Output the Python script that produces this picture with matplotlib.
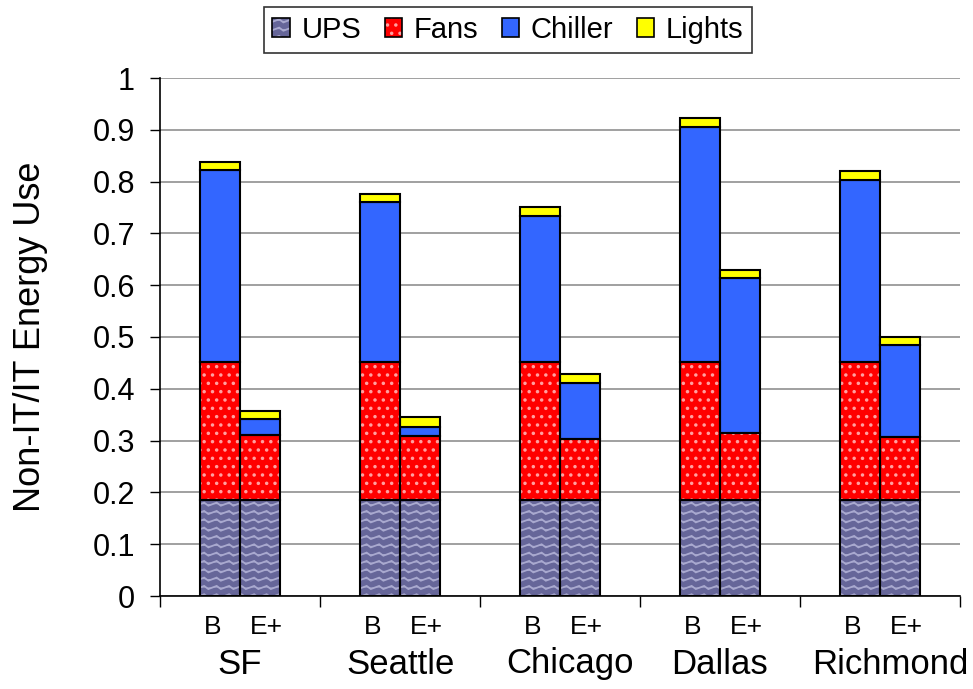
import matplotlib
matplotlib.use("Agg")
import matplotlib.pyplot as plt
import matplotlib.transforms as mtransforms
import matplotlib.hatch as mhatch
from matplotlib.path import Path
from matplotlib.patches import Patch
from matplotlib.colors import to_rgba
import numpy as np

plt.rcParams['font.family'] = ['Liberation Sans', 'DejaVu Sans']


# wavy hatch pattern (replaces the 'o' small-circle hatch)
class WavyHatch(mhatch.HatchPatternBase):
    npts = 25

    def __init__(self, hatch, density):
        self.num_lines = int(hatch.count('o') * density)
        self.num_vertices = self.num_lines * self.npts

    def set_vertices_and_codes(self, vertices, codes):
        t = np.linspace(0, 1, self.npts)
        for i in range(self.num_lines):
            y0 = (i + 0.5) / self.num_lines
            s = slice(i * self.npts, (i + 1) * self.npts)
            vertices[s, 0] = t
            vertices[s, 1] = y0 + 0.018 * np.sin(2 * np.pi * 8 * t)
            codes[s] = Path.LINETO
            codes[i * self.npts] = Path.MOVETO


mhatch._hatch_types = [WavyHatch if h is mhatch.SmallCircles else h
                       for h in mhatch._hatch_types]

cities = ["SF", "Seattle", "Chicago", "Dallas", "Richmond"]
cases = ["B", "E+"]
# cumulative tops (per city: B, E+)
ups = [0.185, 0.185, 0.185, 0.185, 0.185, 0.185, 0.185, 0.185, 0.185, 0.185]
fans_top = [0.452, 0.311, 0.452, 0.308, 0.452, 0.304, 0.452, 0.314, 0.452, 0.307]
chiller_top = [0.822, 0.341, 0.760, 0.327, 0.733, 0.411, 0.906, 0.613, 0.804, 0.484]
lights_top = [0.838, 0.357, 0.776, 0.346, 0.750, 0.428, 0.923, 0.629, 0.820, 0.500]

fans = [f - u for f, u in zip(fans_top, ups)]
chiller = [c - f for c, f in zip(chiller_top, fans_top)]
lights = [l - c for l, c in zip(lights_top, chiller_top)]

fig = plt.figure(figsize=(9.73, 6.89), dpi=100)
ax = fig.add_axes([160/973, (689-596)/689, 800/973, (596-78)/689])

w = 0.25
x = []
for i in range(len(cities)):
    x += [i + 0.5 - w/2, i + 0.5 + w/2]
x = np.array(x)

series = [
    ("UPS", ups, "#666699", "oo", "#a9a9cf"),
    ("Fans", fans, "#ff0000", "..", "#ffa0a0"),
    ("Chiller", chiller, "#3366ff", None, None),
    ("Lights", lights, "#ffff00", None, None),
]
plt.rcParams['hatch.linewidth'] = 1.3
bottom = np.zeros(len(x))
handles = []
for name, vals, col, hatch, hcol in series:
    vals = np.array(vals)
    if hatch:
        ax.bar(x, vals, w, bottom=bottom, color=col, edgecolor=hcol, linewidth=0,
               hatch=hatch, zorder=3)
        ax.bar(x, vals, w, bottom=bottom, facecolor='none', edgecolor='black',
               linewidth=1.5, zorder=4)
    else:
        ax.bar(x, vals, w, bottom=bottom, color=col, edgecolor='black',
               linewidth=1.5, zorder=3)
    hp = Patch(facecolor=col, edgecolor='black', linewidth=1.2,
               hatch=hatch, label=name)
    if hcol:
        hp._hatch_color = to_rgba(hcol)
    handles.append(hp)
    bottom += vals

ax.set_xlim(0, 5)
ax.set_ylim(0, 1)
ax.set_yticks(np.arange(0, 1.01, 0.1))
ax.set_yticklabels(["0", "0.1", "0.2", "0.3", "0.4", "0.5", "0.6", "0.7", "0.8", "0.9", "1"],
                   fontsize=22)
ax.yaxis.grid(True, color='#909090', linewidth=1.2, zorder=0)
ax.set_axisbelow(True)
ax.set_xticks(np.arange(0, 6, 1))
ax.set_xticklabels([])
ax.tick_params(axis='x', direction='out', length=8, width=1, color='black')
ax.tick_params(axis='y', direction='out', length=7, width=1, pad=11)
for s in ['top', 'right']:
    ax.spines[s].set_visible(False)
ax.spines['left'].set_color('black')
ax.spines['bottom'].set_color('black')
ax.spines['left'].set_linewidth(1.2)
ax.spines['bottom'].set_linewidth(1.2)
ax.set_ylabel("Non-IT/IT Energy Use", fontsize=26)
ax.yaxis.set_label_coords(-0.14, 0.5)

trans = mtransforms.blended_transform_factory(ax.transData, fig.transFigure)
labels = cases * len(cities)
offs = [-7, 6] * len(cities)
for xi, lab, o in zip(x, labels, offs):
    t = mtransforms.offset_copy(trans, fig=fig, x=o, units='dots')
    ax.text(xi, 1 - 627/689, lab, transform=t, ha='center', va='center', fontsize=19)
city_offs = [0, 1, 10, 0, 10]
for i, (c, o) in enumerate(zip(cities, city_offs)):
    t = mtransforms.offset_copy(trans, fig=fig, x=o, units='dots')
    ax.text(i + 0.5, 1 - 664/689, c, transform=t, ha='center', va='center', fontsize=25)

leg = fig.legend(handles=handles, loc='center', bbox_to_anchor=(508/973, 1 - 30/689),
                 ncol=4, fontsize=21, frameon=True, fancybox=False, edgecolor='black',
                 handlelength=0.6, handleheight=0.6, handletextpad=0.4, columnspacing=0.8,
                 borderpad=0.3)
leg.get_frame().set_linewidth(1.2)

fig.savefig("out.png", dpi=100)
